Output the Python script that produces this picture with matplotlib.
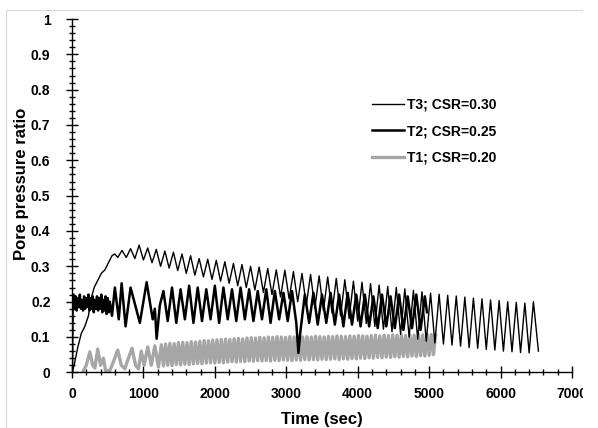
import matplotlib
matplotlib.use('Agg')
import matplotlib.pyplot as plt
from matplotlib.ticker import MultipleLocator, FuncFormatter
from matplotlib.patches import Rectangle

plt.rcParams['font.family'] = ['Liberation Sans', 'DejaVu Sans']
plt.rcParams['font.weight'] = 'bold'

# T3; CSR=0.30 (thin black) - time (sec), pore pressure ratio
t3_time = [0, 30, 80, 130, 180, 230, 270, 310, 360, 410, 460, 510, 560, 600,
           640, 700, 760, 820, 880, 940, 1000, 1060, 1120, 1180, 1240, 1300, 1360, 1420,
           1480, 1540, 1600, 1660, 1720, 1780, 1840, 1900, 1960, 2020, 2080, 2140, 2200,
           2260, 2320, 2380, 2440, 2500, 2560, 2620, 2680, 2740, 2800, 2860, 2920, 2980,
           3040, 3100, 3160, 3220, 3280, 3340, 3400, 3460, 3520, 3580, 3640, 3700, 3760,
           3820, 3880, 3940, 4000, 4060, 4120, 4180, 4240, 4300, 4360, 4420, 4480, 4540,
           4600, 4660, 4720, 4780, 4840, 4900, 4960, 5020, 5080, 5140, 5200, 5260, 5320,
           5380, 5440, 5500, 5560, 5620, 5680, 5740, 5800, 5860, 5920, 5980, 6040, 6100,
           6160, 6220, 6280, 6340, 6400, 6460, 6530]
t3_ratio = [0.0, 0.02, 0.07, 0.11, 0.13, 0.16, 0.21, 0.24, 0.26, 0.28, 0.29, 0.31, 0.33, 0.335,
            0.325, 0.345, 0.325, 0.35, 0.322, 0.36, 0.318, 0.352, 0.31, 0.348, 0.30, 0.343,
            0.295, 0.34, 0.288, 0.335, 0.28, 0.33, 0.275, 0.322, 0.27, 0.32, 0.263, 0.317,
            0.258, 0.313, 0.252, 0.308, 0.245, 0.305, 0.24, 0.30, 0.233, 0.298, 0.226, 0.294,
            0.22, 0.29, 0.213, 0.289, 0.208, 0.285, 0.20, 0.28, 0.19, 0.277, 0.182, 0.273,
            0.175, 0.27, 0.168, 0.266, 0.16, 0.262, 0.152, 0.258, 0.145, 0.255, 0.138, 0.251,
            0.13, 0.247, 0.122, 0.243, 0.115, 0.24, 0.108, 0.236, 0.10, 0.232, 0.094, 0.228,
            0.088, 0.224, 0.083, 0.221, 0.08, 0.218, 0.077, 0.216, 0.074, 0.213, 0.07, 0.21,
            0.068, 0.208, 0.065, 0.205, 0.063, 0.203, 0.06, 0.20, 0.058, 0.198, 0.056, 0.196,
            0.055, 0.20, 0.06]

# T2; CSR=0.25 (thick black)
t2_time = [0, 10, 20, 35, 50, 65, 80, 95, 110, 125, 140, 155, 170, 185, 200, 215, 230, 245,
           260, 275, 290, 305, 320, 335, 350, 365, 380, 395, 410, 425, 440, 455, 470, 485,
           500, 515, 530,
           560, 600, 655, 695, 750, 820, 950, 1045, 1130, 1160, 1185, 1230,
           1280, 1340, 1400, 1460, 1520, 1580, 1640, 1700, 1760, 1820, 1880, 1940, 2000,
           2060, 2120, 2180, 2240, 2300, 2360, 2420, 2480, 2540, 2600, 2660, 2720, 2780,
           2840, 2900, 2960, 3020, 3080,
           3140, 3170, 3200,
           3260, 3320, 3380, 3440, 3500, 3560, 3620, 3680, 3740, 3800, 3860, 3920, 3980,
           4040, 4100, 4160, 4220, 4280, 4340, 4400, 4460, 4520, 4580, 4640, 4700, 4760,
           4820, 4880, 4940,
           4970]
t2_ratio = [0.0, 0.2, 0.22, 0.18, 0.215, 0.175, 0.21, 0.185, 0.22, 0.18, 0.205, 0.175, 0.215,
            0.18, 0.21, 0.185, 0.22, 0.175, 0.21, 0.18, 0.215, 0.17, 0.205, 0.18, 0.215, 0.175,
            0.21, 0.18, 0.22, 0.17, 0.205, 0.175, 0.215, 0.165, 0.21, 0.17, 0.20,
            0.16, 0.24, 0.15, 0.252, 0.13, 0.24, 0.14, 0.255, 0.15, 0.18, 0.095, 0.19,
            0.23, 0.145, 0.24, 0.14, 0.235, 0.15, 0.245, 0.14, 0.24, 0.145, 0.235, 0.15, 0.245,
            0.14, 0.24, 0.15, 0.235, 0.145, 0.24, 0.15, 0.235, 0.145, 0.23, 0.15, 0.235, 0.14,
            0.23, 0.15, 0.225, 0.145, 0.23,
            0.14, 0.055, 0.12,
            0.22, 0.14, 0.225, 0.135, 0.22, 0.14, 0.225, 0.135, 0.22, 0.13, 0.225, 0.135, 0.22,
            0.13, 0.22, 0.13, 0.215, 0.125, 0.22, 0.13, 0.215, 0.125, 0.22, 0.12, 0.215, 0.125,
            0.22, 0.12, 0.215,
            0.17]

# T1; CSR=0.20 (grey)
t1_time = [150, 200, 250, 290, 320, 360, 400, 440, 470, 530, 580, 640, 690, 740, 790, 840,
           890, 930, 970, 1010, 1060, 1110, 1160, 1210,
           1250, 1280, 1310, 1340, 1370, 1400, 1430, 1460, 1490, 1520,
           1550, 1580, 1610, 1640, 1670, 1700, 1730, 1760, 1790, 1820,
           1850, 1880, 1910, 1940, 1970, 2000, 2030, 2060, 2090, 2120,
           2150, 2180, 2210, 2240, 2270, 2300, 2330, 2360, 2390, 2420,
           2450, 2480, 2510, 2540, 2570, 2600, 2630, 2660, 2690, 2720,
           2750, 2780, 2810, 2840, 2870, 2900, 2930, 2960, 2990, 3020,
           3050, 3080, 3110, 3140, 3170, 3200, 3230, 3260, 3290, 3320,
           3350, 3380, 3410, 3440, 3470, 3500, 3530, 3560, 3590, 3620,
           3650, 3680, 3710, 3740, 3770, 3800, 3830, 3860, 3890, 3920,
           3950, 3980, 4010, 4040, 4070, 4100, 4130, 4160, 4190, 4220,
           4250, 4280, 4310, 4340, 4370, 4400, 4430, 4460, 4490, 4520,
           4550, 4580, 4610, 4640, 4670, 4700, 4730, 4760, 4790, 4820,
           4850, 4880, 4910, 4940, 4970, 5000, 5030, 5060, 5090]
t1_ratio = [0.0, 0.02, 0.058, 0.02, 0.012, 0.066, 0.02, 0.04, 0.005, 0.005, 0.03, 0.063,
            0.02, 0.01, 0.04, 0.068, 0.02, 0.01, 0.06, 0.02, 0.072, 0.02, 0.075, 0.015,
            0.078, 0.018, 0.080, 0.020, 0.082, 0.019, 0.081, 0.022, 0.084, 0.021,
            0.085, 0.023, 0.084, 0.022, 0.087, 0.024, 0.086, 0.025, 0.088, 0.024,
            0.090, 0.026, 0.089, 0.027, 0.091, 0.026, 0.092, 0.028, 0.093, 0.027,
            0.094, 0.029, 0.093, 0.030, 0.095, 0.029, 0.096, 0.031, 0.095, 0.030,
            0.097, 0.032, 0.098, 0.031, 0.097, 0.033, 0.099, 0.032, 0.098, 0.033,
            0.100, 0.032, 0.099, 0.034, 0.101, 0.033, 0.100, 0.035, 0.099, 0.034,
            0.101, 0.033, 0.100, 0.035, 0.102, 0.034, 0.100, 0.036, 0.101, 0.035,
            0.100, 0.036, 0.102, 0.035, 0.101, 0.037, 0.100, 0.036, 0.102, 0.037,
            0.101, 0.038, 0.103, 0.036, 0.102, 0.038, 0.101, 0.037, 0.103, 0.039,
            0.102, 0.038, 0.104, 0.040, 0.103, 0.039, 0.102, 0.041, 0.104, 0.040,
            0.105, 0.042, 0.103, 0.041, 0.105, 0.043, 0.104, 0.042, 0.106, 0.044,
            0.105, 0.043, 0.106, 0.045, 0.104, 0.044, 0.106, 0.046, 0.105, 0.045,
            0.107, 0.047, 0.106, 0.046, 0.108, 0.048, 0.107, 0.050, 0.105]

fig = plt.figure(figsize=(5.98, 4.28), dpi=100)
ax = fig.add_axes([0.1204, 0.1301, 0.8361, 0.8255])

# grey first, black lines on top
l1, = ax.plot(t1_time, t1_ratio, color='#a6a6a6', lw=2.4)
l2, = ax.plot(t2_time, t2_ratio, color='black', lw=1.8)
l3, = ax.plot(t3_time, t3_ratio, color='black', lw=1.0)

ax.set_xlim(0, 7000)
ax.set_ylim(0, 1)
ax.spines['top'].set_visible(False)
ax.spines['right'].set_visible(False)
for s in ['left', 'bottom']:
    ax.spines[s].set_linewidth(1.0)

ax.xaxis.set_major_locator(MultipleLocator(1000))
ax.xaxis.set_minor_locator(MultipleLocator(200))
ax.yaxis.set_major_locator(MultipleLocator(0.1))
ax.yaxis.set_minor_locator(MultipleLocator(0.02))
ax.yaxis.set_major_formatter(FuncFormatter(lambda v, p: '%g' % round(v, 2)))

ax.tick_params(which='major', direction='inout', length=9, width=1, labelsize=10)
ax.tick_params(which='minor', direction='inout', length=5, width=1)
ax.tick_params(axis='y', which='major', pad=11)
ax.tick_params(axis='x', which='major', pad=6)

ax.set_xlabel('Time (sec)', fontsize=12, fontweight='bold')
ax.set_ylabel('Pore pressure ratio', fontsize=12, fontweight='bold')
ax.xaxis.set_label_coords(0.5, -0.112)
ax.yaxis.set_label_coords(-0.086, 0.533)

ax.legend([l3, l2, l1], ['T3; CSR=0.30', 'T2; CSR=0.25', 'T1; CSR=0.20'],
          loc='upper left', bbox_to_anchor=(0.6, 0.777), frameon=False, fontsize=10,
          handlelength=2.3, handletextpad=0.25, labelspacing=0.9,
          borderpad=0, borderaxespad=0)

# light chart-area border (top / left visible)
fig.add_artist(Rectangle((6 / 598, -0.1), 1.0, (428 - 10) / 428 + 0.1,
                         transform=fig.transFigure, fill=False,
                         edgecolor='#d9d9d9', lw=0.8))
# the source image is cut off on the right, just past the last tick label
fig.add_artist(Rectangle((583 / 598, 0), 1.0, 1.0, transform=fig.transFigure,
                         facecolor='white', edgecolor='none', zorder=10))

fig.savefig('out.png', dpi=100, facecolor='white')
